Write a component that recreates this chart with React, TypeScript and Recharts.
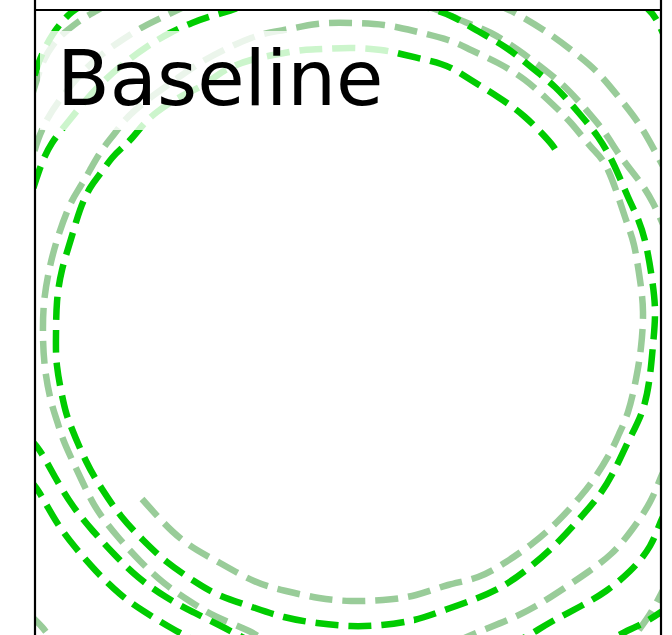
import React from 'react';
import { ScatterChart, Scatter, XAxis, YAxis, ReferenceArea, ReferenceLine, Label } from 'recharts';

type P = { x: number; y: number };
const p = (x: number, y: number): P => ({ x, y });

// Main "Baseline" trajectory (bright), spiralling outward counter-clockwise
const baselineMain: P[] = [
  p(2.07, 1.74), p(2.0, 1.83), p(1.77, 2.06), p(1.5, 2.26), p(1.23, 2.43), p(1.07, 2.53), p(0.93, 2.59),
  p(0.74, 2.64), p(0.53, 2.69), p(0.33, 2.73), p(0.03, 2.75), p(-0.24, 2.74), p(-0.44, 2.73), p(-0.64, 2.7),
  p(-0.97, 2.63), p(-1.24, 2.52), p(-1.45, 2.38), p(-1.68, 2.26), p(-1.91, 2.11), p(-2.05, 1.98), p(-2.16, 1.85),
  p(-2.25, 1.76), p(-2.36, 1.65), p(-2.48, 1.49), p(-2.58, 1.35), p(-2.68, 1.13), p(-2.77, 0.84), p(-2.86, 0.53),
  p(-2.91, 0.21), p(-2.92, -0.12), p(-2.91, -0.43), p(-2.85, -0.77), p(-2.78, -1.01), p(-2.62, -1.38),
  p(-2.46, -1.66), p(-2.27, -1.93), p(-2.05, -2.17), p(-1.81, -2.39), p(-1.54, -2.58), p(-1.29, -2.72),
  p(-0.96, -2.84), p(-0.64, -2.94), p(-0.31, -3.0), p(0.02, -3.03), p(0.34, -3.02), p(0.66, -2.97), p(0.94, -2.88),
  p(1.27, -2.76), p(1.55, -2.63), p(1.82, -2.44), p(2.1, -2.19), p(2.33, -1.94), p(2.52, -1.71), p(2.67, -1.46),
  p(2.81, -1.17), p(2.95, -0.86), p(3.02, -0.52), p(3.05, -0.22), p(3.07, 0.11), p(3.04, 0.44), p(2.98, 0.78),
  p(2.9, 1.04), p(2.8, 1.26), p(2.66, 1.58), p(2.5, 1.86), p(2.3, 2.11), p(2.07, 2.36), p(1.83, 2.56),
  p(1.57, 2.76), p(1.28, 2.93), p(1.03, 3.07), p(0.77, 3.16), p(0.52, 3.23),
];

// Faded trajectory, starting lower-left and spiralling outward
const fadedMain: P[] = [
  p(-2.06, -1.76), p(-1.76, -2.08), p(-1.51, -2.27), p(-1.28, -2.4), p(-0.94, -2.58), p(-0.62, -2.68),
  p(-0.29, -2.75), p(0.03, -2.78), p(0.35, -2.77), p(0.68, -2.72), p(1.0, -2.62), p(1.3, -2.54), p(1.58, -2.39),
  p(1.85, -2.2), p(2.1, -1.98), p(2.32, -1.74), p(2.48, -1.53), p(2.63, -1.28), p(2.71, -1.11), p(2.8, -0.89),
  p(2.88, -0.56), p(2.93, -0.24), p(2.95, 0.11), p(2.92, 0.43), p(2.86, 0.78), p(2.77, 1.06), p(2.6, 1.53),
  p(2.43, 1.76), p(2.23, 2.0), p(2.0, 2.23), p(1.77, 2.43), p(1.5, 2.6), p(1.23, 2.73), p(1.0, 2.83),
  p(0.66, 2.92), p(0.36, 2.98), p(0.03, 3.0), p(-0.31, 2.99), p(-0.64, 2.93), p(-0.97, 2.85), p(-1.43, 2.63),
  p(-1.73, 2.43), p(-1.98, 2.25), p(-2.21, 2.05), p(-2.33, 1.9), p(-2.46, 1.73), p(-2.58, 1.53), p(-2.68, 1.36),
  p(-2.79, 1.16), p(-2.91, 0.83), p(-2.99, 0.52), p(-3.04, 0.2), p(-3.05, -0.13), p(-3.03, -0.45),
  p(-2.97, -0.78), p(-2.9, -1.01), p(-2.83, -1.21), p(-2.65, -1.6), p(-2.5, -1.88), p(-2.3, -2.14),
  p(-2.08, -2.38), p(-1.84, -2.6), p(-1.57, -2.79), p(-1.31, -2.94), p(-0.99, -3.08), p(-0.86, -3.17),
];

const fadedTopRightInner: P[] = [
  p(0.72, 3.19), p(0.92, 3.12), p(1.17, 3.01), p(1.43, 2.9), p(1.7, 2.73), p(1.97, 2.53), p(2.2, 2.33),
  p(2.4, 2.11), p(2.57, 1.9), p(2.73, 1.66), p(2.92, 1.41), p(3.05, 1.2), p(3.14, 1.01), p(3.2, 0.87),
];
const fadedTopRightOuter: P[] = [
  p(1.47, 3.19), p(1.67, 3.1), p(2.0, 2.9), p(2.27, 2.7), p(2.5, 2.5), p(2.73, 2.23), p(2.93, 1.96),
  p(3.1, 1.66), p(3.2, 1.48),
];
const brightTopRightCorner: P[] = [p(2.92, 3.19), p(3.0, 3.14), p(3.08, 3.04), p(3.13, 2.94), p(3.18, 2.83)];

const brightTopLeftInner: P[] = [
  p(-1.08, 3.17), p(-1.16, 3.13), p(-1.36, 3.07), p(-1.56, 3.0), p(-1.78, 2.9), p(-2.0, 2.77), p(-2.22, 2.61),
  p(-2.43, 2.43), p(-2.62, 2.23), p(-2.8, 2.01), p(-2.96, 1.8), p(-3.06, 1.6), p(-3.12, 1.43), p(-3.18, 1.25),
];
const brightTopLeftCorner: P[] = [
  p(-2.64, 3.19), p(-2.76, 3.11), p(-2.86, 3.01), p(-2.95, 2.89), p(-3.03, 2.75), p(-3.09, 2.61),
  p(-3.13, 2.49), p(-3.17, 2.37),
];
const fadedTopLeftCorner: P[] = [
  p(-2.4, 3.19), p(-2.52, 3.12), p(-2.64, 3.05), p(-2.74, 2.98), p(-2.85, 2.89), p(-2.95, 2.78),
  p(-3.04, 2.63), p(-3.1, 2.47), p(-3.15, 2.31),
];
const fadedTopLeftInner: P[] = [
  p(-1.58, 3.19), p(-1.85, 3.06), p(-2.05, 2.96), p(-2.26, 2.83), p(-2.48, 2.67), p(-2.68, 2.48),
  p(-2.86, 2.26), p(-3.0, 2.05), p(-3.1, 1.83), p(-3.16, 1.63),
];

const brightLowerLeftInner: P[] = [
  p(-3.2, -1.14), p(-3.08, -1.28), p(-2.93, -1.54), p(-2.75, -1.83), p(-2.55, -2.08), p(-2.34, -2.31),
  p(-2.1, -2.54), p(-1.82, -2.74), p(-1.55, -2.89), p(-1.29, -3.02), p(-1.08, -3.13), p(-0.92, -3.21),
];
const brightLowerLeftOuter: P[] = [
  p(-3.2, -1.55), p(-3.09, -1.69), p(-2.92, -1.98), p(-2.73, -2.24), p(-2.52, -2.48), p(-2.28, -2.71),
  p(-2.03, -2.89), p(-1.75, -3.06), p(-1.58, -3.15),
];
const fadedLowerLeftCorner: P[] = [p(-3.18, -2.92), p(-3.06, -3.04), p(-2.96, -3.17)];

const fadedLowerRightInner: P[] = [
  p(3.2, -1.41), p(3.13, -1.54), p(3.02, -1.79), p(2.83, -2.08), p(2.63, -2.31), p(2.4, -2.49), p(2.15, -2.66),
  p(1.88, -2.83), p(1.62, -2.96), p(1.33, -3.08), p(1.12, -3.17),
];
const brightLowerRightInner: P[] = [
  p(3.2, -1.85), p(3.13, -1.98), p(3.02, -2.23), p(2.82, -2.48), p(2.58, -2.68), p(2.33, -2.83), p(2.03, -2.99),
  p(1.83, -3.11), p(1.67, -3.19),
];
const fadedLowerRightOuter: P[] = [p(3.2, -2.59), p(3.13, -2.71), p(3.02, -2.91), p(2.9, -3.08), p(2.84, -3.17)];
const brightLowerRightOuter: P[] = [p(3.2, -2.84), p(3.13, -2.89), p(2.97, -2.99), p(2.77, -3.09), p(2.62, -3.17)];

const BRIGHT = '#00cc00';
const FADED = '#99cc99';

const series: { id: string; data: P[]; color: string }[] = [
  { id: 'fadedMain', data: fadedMain, color: FADED },
  { id: 'fadedTopRightInner', data: fadedTopRightInner, color: FADED },
  { id: 'fadedTopRightOuter', data: fadedTopRightOuter, color: FADED },
  { id: 'fadedTopLeftCorner', data: fadedTopLeftCorner, color: FADED },
  { id: 'fadedTopLeftInner', data: fadedTopLeftInner, color: FADED },
  { id: 'fadedLowerLeftCorner', data: fadedLowerLeftCorner, color: FADED },
  { id: 'fadedLowerRightInner', data: fadedLowerRightInner, color: FADED },
  { id: 'fadedLowerRightOuter', data: fadedLowerRightOuter, color: FADED },
  { id: 'baselineMain', data: baselineMain, color: BRIGHT },
  { id: 'brightTopRightCorner', data: brightTopRightCorner, color: BRIGHT },
  { id: 'brightTopLeftInner', data: brightTopLeftInner, color: BRIGHT },
  { id: 'brightTopLeftCorner', data: brightTopLeftCorner, color: BRIGHT },
  { id: 'brightLowerLeftInner', data: brightLowerLeftInner, color: BRIGHT },
  { id: 'brightLowerLeftOuter', data: brightLowerLeftOuter, color: BRIGHT },
  { id: 'brightLowerRightInner', data: brightLowerRightInner, color: BRIGHT },
  { id: 'brightLowerRightOuter', data: brightLowerRightOuter, color: BRIGHT },
];

const panelLabel = 'Baseline';
const DOMAIN: [number, number] = [-3.13, 3.13];

const NoDot = () => <g />;

const LabelText = (props: any) => {
  const vb = props.viewBox || { x: 0, y: 0 };
  return (
    <text x={vb.x + 17} y={vb.y + 74} fontSize={77} fontFamily="DejaVu Sans" fill="#000">
      {panelLabel}
    </text>
  );
};

export default function App() {
  return (
    <div style={{ position: 'absolute', left: 0, top: 0, width: 672, height: 635, overflow: 'hidden', background: '#fff' }}>
      <ScatterChart width={672} height={646} margin={{ top: 10, right: 11, bottom: 10, left: 35 }}>
        <XAxis type="number" dataKey="x" domain={DOMAIN} allowDataOverflow hide />
        <YAxis type="number" dataKey="y" domain={DOMAIN} allowDataOverflow hide />
        {series.map((s) => (
          <Scatter
            key={s.id}
            name={s.id}
            data={s.data}
            fill={s.color}
            strokeWidth={6.5}
            line={{ stroke: s.color, strokeWidth: 6.5, strokeDasharray: '23 10' }}
            lineJointType="natural"
            shape={NoDot}
            isAnimationActive={false}
          />
        ))}
        <ReferenceArea
          x1={-3.08}
          x2={0.48}
          y1={1.93}
          y2={2.92}
          fill="#ffffff"
          fillOpacity={0.8}
          stroke="none"
          ifOverflow="visible"
          zIndex={1500}
        >
          <Label content={LabelText} />
        </ReferenceArea>
        <ReferenceLine segment={[{ x: -3.13, y: 3.25 }, { x: -3.13, y: -3.3 }]} stroke="#000" strokeWidth={2.2} ifOverflow="visible" zIndex={1600} />
        <ReferenceLine segment={[{ x: 3.13, y: 3.25 }, { x: 3.13, y: -3.3 }]} stroke="#000" strokeWidth={2.2} ifOverflow="visible" zIndex={1600} />
        <ReferenceLine segment={[{ x: -3.14, y: 3.13 }, { x: 3.14, y: 3.13 }]} stroke="#000" strokeWidth={2.2} ifOverflow="visible" zIndex={1600} />
      </ScatterChart>
    </div>
  );
}
